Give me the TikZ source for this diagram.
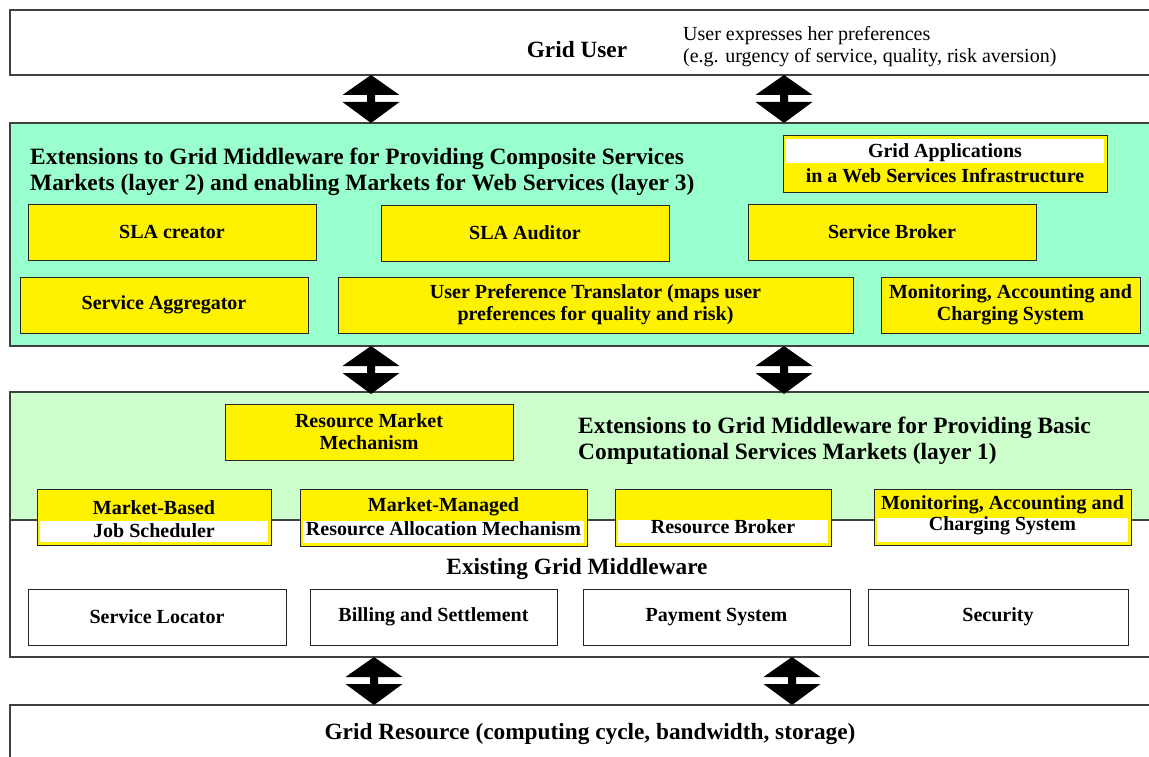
\documentclass[tikz,border=0pt]{standalone}
\usepackage{fontspec}
\setmainfont{Liberation Serif}
\begin{document}
\begin{tikzpicture}[x=1pt,y=-1pt,
  layer/.style={draw=black!75, line width=1.2pt},
  ybox/.style={draw=black!85, line width=1pt, fill=yellow, font=\bfseries\fontsize{20}{22}\selectfont, align=center, inner sep=0pt},
  wbox/.style={draw=black!85, line width=1pt, fill=white, font=\bfseries\fontsize{20}{22}\selectfont, align=center, inner sep=0pt},
  ttl/.style={font=\bfseries\fontsize{23.4}{26}\selectfont, align=left, anchor=west, inner sep=0pt, yshift=-1.5pt},
  lbl/.style={font=\bfseries\fontsize{20}{22}\selectfont, inner sep=0pt, yshift=-1pt},
  big/.style={font=\bfseries\fontsize{23.3}{26}\selectfont, inner sep=0pt, yshift=-1.5pt},
]
\useasboundingbox (0,0) rectangle (1149,757);
\fill[white] (0,0) rectangle (1149,757);
\newcommand\dblarr[1]{\fill[black] (#1) -- ++(28.5,20) -- ++(-24.5,0) -- ++(0,7) -- ++(24.5,0) -- ++(-28.5,21) -- ++(-28.5,-21) -- ++(24.5,0) -- ++(0,-7) -- ++(-24.5,0) -- cycle;}

% layers
\draw[layer, fill=white] (10,10) rectangle (1160,75);
\node[big] (user) at (577,48) {Grid User};
\node[font=\fontsize{20}{22}\selectfont, align=left, anchor=west, inner sep=0pt, yshift=-1pt] (pref) at (683,46) {User expresses her preferences\\(e.g. urgency of service, quality, risk aversion)};

\draw[layer, fill={rgb,255:red,153;green,255;blue,204}] (10,123) rectangle (1160,346);
\node[ttl] (l2t) at (30,170) {Extensions to Grid Middleware for Providing Composite Services\\Markets (layer 2) and enabling Markets for Web Services (layer 3)};

\draw[layer, fill={rgb,255:red,204;green,255;blue,204}] (10,392) rectangle (1160,520);
\node[ttl] (l1t) at (578,439) {Extensions to Grid Middleware for Providing Basic\\Computational Services Markets (layer 1)};

\draw[layer, fill=white] (10,520) rectangle (1160,657);
\node[big] (egm) at (577,567) {Existing Grid Middleware};

\draw[layer, fill=white] (10,705) rectangle (1160,770);
\node[big] (res) at (590,732) {Grid Resource (computing cycle, bandwidth, storage)};

% connectors between layers
\coordinate (a1) at (371,75); \coordinate (a2) at (784,75);
\coordinate (a3) at (371,346); \coordinate (a4) at (784,346);
\coordinate (a5) at (374,657); \coordinate (a6) at (792,657);
\dblarr{a1}\dblarr{a2}\dblarr{a3}\dblarr{a4}\dblarr{a5}\dblarr{a6}

% layer 2 boxes
\draw[ybox] (783,136) rectangle (1107,192);
\fill[white] (786,139) rectangle (1104,163);
\node[lbl] (ga1) at (945,152) {Grid Applications};
\node[lbl] (ga2) at (945,175) {in a Web Services Infrastructure};

\node[ybox, minimum width=288pt, minimum height=56pt] (slac) at (172,232) {\raisebox{-2.5pt}{SLA creator}};
\node[ybox, minimum width=288pt, minimum height=56pt] (slaa) at (525,233) {\raisebox{-2.5pt}{SLA Auditor}};
\node[ybox, minimum width=288pt, minimum height=56pt] (sb) at (892,232) {\raisebox{-0.5pt}{Service Broker}};
\node[ybox, minimum width=288pt, minimum height=56pt] (sag) at (164,305) {\raisebox{-2.5pt}{Service Aggregator}};
\node[ybox, minimum width=515pt, minimum height=56pt] (upt) at (595.5,305) {User Preference Translator (maps user\\preferences for quality and risk)};
\node[ybox, minimum width=259pt, minimum height=56pt] (mac2) at (1010.5,305) {Monitoring, Accounting and\\Charging System};

% layer 1 boxes
\node[ybox, minimum width=288pt, minimum height=56pt] (rmm) at (369,432) {Resource Market\\Mechanism};

\draw[ybox] (37,489) rectangle (271,545);
\fill[white] (40,521) rectangle (268,542);
\node[lbl] (mb1) at (154,507) {Market-Based};
\node[lbl] (mb2) at (154,530) {Job Scheduler};

\draw[ybox] (300,489) rectangle (587,546);
\fill[white] (303,521) rectangle (584,543);
\node[lbl] (mm1) at (443.5,506) {Market-Managed};
\node[lbl] (mm2) at (443.5,528) {Resource Allocation Mechanism};

\draw[ybox] (615,489) rectangle (831,546);
\fill[white] (618,520) rectangle (828,543);
\node[lbl] (rb) at (723,526) {Resource Broker};

\draw[ybox] (874,489) rectangle (1131,545);
\fill[white] (877,518) rectangle (1128,542);
\node[lbl] (mac11) at (1002.5,504) {Monitoring, Accounting and};
\node[lbl] (mac12) at (1002.5,525) {Charging System};

% existing middleware boxes
\node[wbox, minimum width=258pt, minimum height=56pt] (sl) at (157,617) {\raisebox{-1.5pt}{Service Locator}};
\node[wbox, minimum width=247pt, minimum height=56pt] (bs) at (433.5,617) {\raisebox{1pt}{Billing and Settlement}};
\node[wbox, minimum width=267pt, minimum height=56pt] (ps) at (716.5,617) {Payment System};
\node[wbox, minimum width=260pt, minimum height=56pt] (sec) at (998,617) {\raisebox{-1.5pt}{Security}};
\end{tikzpicture}
\end{document}
